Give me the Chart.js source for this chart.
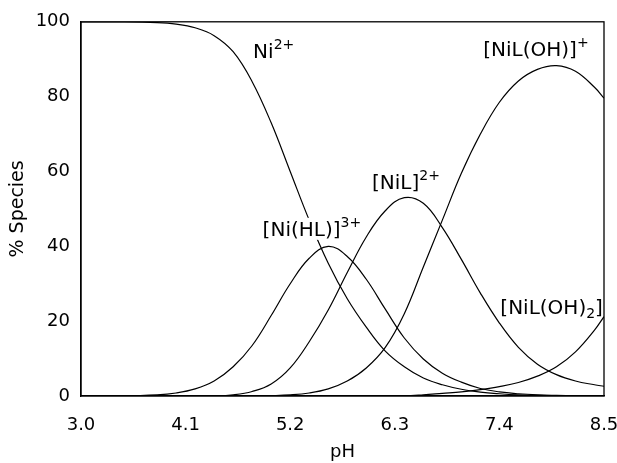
<!DOCTYPE html>
<html>
<head>
<meta charset="utf-8">
<script src="https://cdn.jsdelivr.net/npm/chart.js@4.4.0/dist/chart.umd.min.js"></script>
<style>
  html, body { margin: 0; padding: 0; background: #fff; }
</style>
</head>
<body>
<canvas id="chart" width="617" height="463"></canvas>
<script>
// ---------- data ----------
const pH = [3.0, 3.4, 3.8, 4.0, 4.2, 4.4, 4.6, 4.8, 5.0, 5.2, 5.4, 5.6, 5.8, 6.0,
            6.2, 6.4, 6.6, 6.8, 7.0, 7.2, 7.4, 7.6, 7.8, 8.0, 8.2, 8.4, 8.5];

const ni      = [100, 100, 99.8, 99.4, 98.4, 96.3, 92, 84, 73, 60, 47, 35.5, 26, 18.4,
                 12, 7.8, 4.8, 3, 1.8, 1.05, 0.6, 0.3, 0.15, 0.08, 0.04, 0.02, 0];
const niHL    = [0, 0, 0.3, 0.8, 1.9, 4, 7.8, 13.5, 21.5, 30, 36.8, 40, 37.3, 31.2,
                 23.2, 15.5, 9.9, 6.1, 3.7, 2, 1.1, 0.6, 0.3, 0.15, 0.05, 0, 0];
const niL     = [0, 0, 0, 0, 0, 0, 0.3, 1.2, 3.2, 7.5, 14.5, 23, 33, 42.5,
                 49.5, 53, 51.5, 45, 36.5, 27.5, 19.5, 13, 8.5, 5.7, 4, 3, 2.6];
const niLOH   = [0, 0, 0, 0, 0, 0, 0, 0, 0.1, 0.3, 0.8, 1.9, 4, 7.5,
                 13, 22, 34.5, 47, 59.5, 70, 78.5, 84.2, 87.3, 88.3, 86.8, 82.5, 79.6];
const niLOH2  = [0, 0, 0, 0, 0, 0, 0, 0, 0, 0, 0, 0, 0, 0,
                 0, 0, 0.3, 0.7, 1.1, 1.7, 2.5, 3.6, 5.3, 7.8, 11.8, 17.6, 21.2];

const xTicks = [3.0, 4.1, 5.2, 6.3, 7.4, 8.5];
const yTicks = [0, 20, 40, 60, 80, 100];

const seriesList = [ni, niHL, niL, niLOH, niLOH2];

// ---------- curve labels (anchored in data units) ----------
// mask: white box behind the text, where a curve runs under the label
const speciesLabels = [
  { parts: [{ t: "Ni" }, { t: "2+", k: "sup" }], x: 4.81, y: 90.4 },
  { parts: [{ t: "[Ni(HL)]" }, { t: "3+", k: "sup" }], x: 4.91, y: 42.8, mask: true },
  { parts: [{ t: "[NiL]" }, { t: "2+", k: "sup" }], x: 6.06, y: 55.3 },
  { parts: [{ t: "[NiL(OH)]" }, { t: "+", k: "sup" }], x: 7.23, y: 90.9 },
  { parts: [{ t: "[NiL(OH)" }, { t: "2", k: "sub" }, { t: "]" }], x: 7.41, y: 21.8 }
];

const FAMILY = "'DejaVu Sans', sans-serif";
const INK = "#000";

function partFont(p) {
  return p.k ? "14px " + FAMILY : "20px " + FAMILY;
}

const labelPlugin = {
  id: "speciesLabels",
  afterDatasetsDraw(chart) {
    const { ctx, chartArea, scales } = chart;
    ctx.save();
    ctx.textBaseline = "alphabetic";
    ctx.textAlign = "left";
    speciesLabels.forEach(lb => {
      const x0 = scales.x.getPixelForValue(lb.x);
      const y0 = scales.y.getPixelForValue(lb.y);
      if (lb.mask) {
        let w = 0;
        lb.parts.forEach(p => { ctx.font = partFont(p); w += ctx.measureText(p.t).width; });
        ctx.fillStyle = "#fff";
        ctx.fillRect(x0 - 2, y0 - 18, w + 4, 22);
      }
      ctx.fillStyle = INK;
      let x = x0;
      lb.parts.forEach(p => {
        ctx.font = partFont(p);
        let dy = 0;
        if (p.k === "sup") dy = -9;
        if (p.k === "sub") dy = 4;
        ctx.fillText(p.t, x, y0 + dy);
        x += ctx.measureText(p.t).width;
      });
    });

    // frame round the plot
    ctx.strokeStyle = INK;
    ctx.lineWidth = 1.3;
    ctx.strokeRect(chartArea.left, chartArea.top,
                   chartArea.right - chartArea.left, chartArea.bottom - chartArea.top);
    ctx.restore();
  }
};

const datasets = seriesList.map(s => ({
  data: s.map((v, i) => ({ x: pH[i], y: v })),
  borderColor: INK,
  borderWidth: 1.2,
  pointRadius: 0,
  fill: false,
  tension: 0.4
}));

new Chart(document.getElementById("chart"), {
  type: "line",
  data: { datasets },
  options: {
    responsive: false,
    animation: false,
    layout: { padding: { left: 0, right: 0, top: 20, bottom: 0 } },
    plugins: { legend: { display: false }, tooltip: { enabled: false } },
    scales: {
      x: {
        type: "linear",
        min: 3.0,
        max: 8.5,
        afterBuildTicks: axis => { axis.ticks = xTicks.map(v => ({ value: v })); },
        afterFit: axis => {
          axis.height = 67;
          axis.paddingRight = 13;   // tick padding would otherwise widen the margin
        },
        grid: { display: false, drawTicks: false },
        border: { display: true, color: INK, width: 1.3 },
        ticks: {
          padding: 19,
          color: INK,
          font: { family: FAMILY, size: 18 },
          callback: v => Number(v).toFixed(1)
        },
        title: {
          display: true,
          text: "pH",
          color: INK,
          font: { family: FAMILY, size: 18 },
          padding: { top: 0, bottom: 0 }
        }
      },
      y: {
        min: 0,
        max: 100,
        afterBuildTicks: axis => { axis.ticks = yTicks.map(v => ({ value: v })); },
        afterFit: axis => { axis.width = 81; },
        grid: { display: false, drawTicks: false },
        border: { display: true, color: INK, width: 1.3 },
        ticks: {
          padding: 11,
          color: INK,
          font: { family: FAMILY, size: 18 }
        },
        title: {
          display: true,
          text: "% Species",
          color: INK,
          font: { family: FAMILY, size: 19 },
          padding: { top: 7, bottom: 0 }
        }
      }
    }
  },
  plugins: [labelPlugin]
});
</script>
</body>
</html>
